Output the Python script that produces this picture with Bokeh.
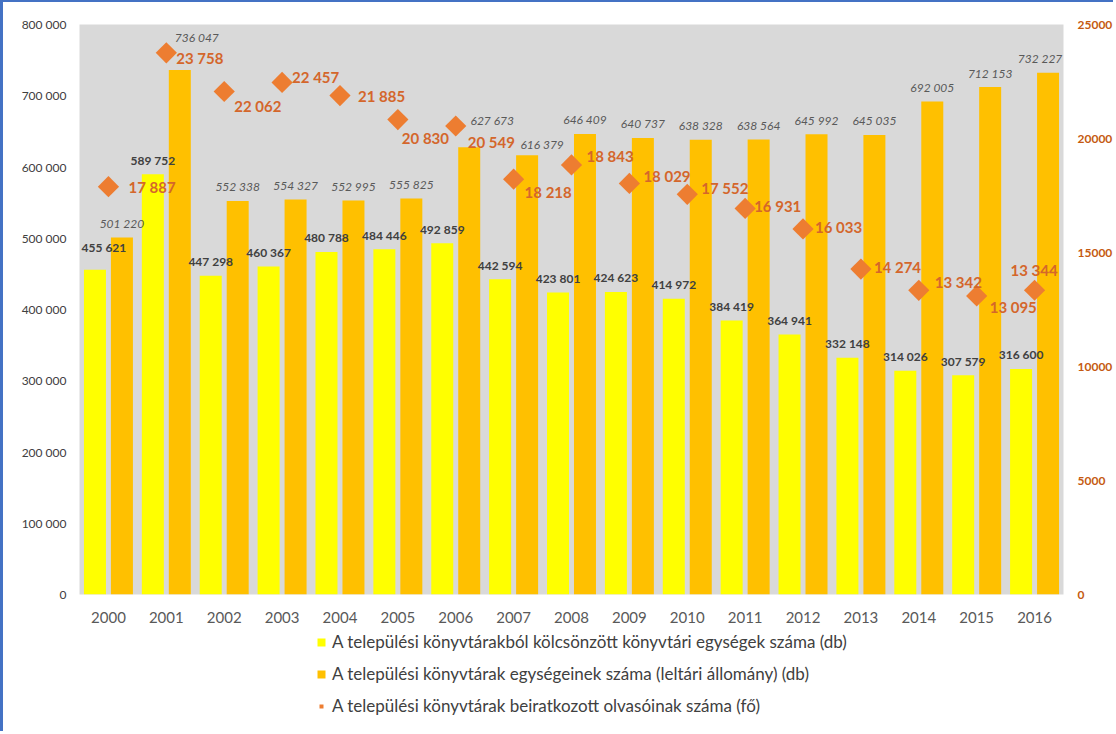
from bokeh.plotting import figure
from bokeh.layouts import column
from bokeh.models import (ColumnDataSource, FactorRange, Range1d, LinearAxis, FixedTicker,
                          CustomJSTickFormatter, Legend, LegendItem)
from bokeh.transform import dodge
from bokeh.core.properties import value
from bokeh.embed import file_html
from bokeh.resources import INLINE
import math

# ---------------- data ----------------
years = [str(y) for y in range(2000, 2017)]
loans = [455621, 589752, 447298, 460367, 480788, 484446, 492859, 442594, 423801,
         424623, 414972, 384419, 364941, 332148, 314026, 307579, 316600]
stock = [501220, 736047, 552338, 554327, 552995, 555825, 627673, 616379, 646409,
         640737, 638328, 638564, 645992, 645035, 692005, 712153, 732227]
readers = [17887, 23758, 22062, 22457, 21885, 20830, 20549, 18218, 18843,
           18029, 17552, 16931, 16033, 14274, 13342, 13095, 13344]
left_ticks = list(range(0, 800001, 100000))
right_ticks = list(range(0, 25001, 5000))
series_names = [
    "A települési könyvtárakból kölcsönzött könyvtári egységek száma (db)",
    "A települési könyvtárak egységeinek száma (leltári állomány) (db)",
    "A települési könyvtárak beiratkozott olvasóinak száma (fő)",
]

# label nudges in pixels (styling only)
loan_dx = [9] + [0] * 16
loan_dy = [-22] + [-14] * 16
stock_dx = [0, 17, 0, 0, 0, 0, 23, 15, 0, 0, 0, 0, 0, 0, 0, 0, -8]
stock_dy = [-14, -33, -14, -14, -14, -14, -27, -11, -14, -14, -14, -14, -14, -14, -14, -14, -14]
reader_dx = [20, 10, 10, 10, 18, 4, 12, 11, 15, 14, 14, 9, 12, 13, 16, 13, -24]
reader_dy = [0, 5, 15, -5, 0, 18, 16, 13, -9, -7, -6, -2, -2, -2, -8, 11, -20]


def fmt(v):
    return f"{v:,}".replace(",", " ")


src = ColumnDataSource(dict(
    year=years, loans=loans, stock=stock, readers=readers,
    loan_lbl=[fmt(v) for v in loans], stock_lbl=[fmt(v) for v in stock],
    reader_lbl=[fmt(v) for v in readers],
    loan_dx=loan_dx, loan_dy=loan_dy, stock_dx=stock_dx, stock_dy=stock_dy,
    reader_dx=reader_dx, reader_dy=reader_dy,
))

FONT = value("Lato")
YELLOW = "#FFFF00"
GOLD = "#FFC000"
ORANGE = "#ED7D31"
ORANGE_TXT = "#D4662B"
BORDER = "#4472C4"

p = figure(x_range=FactorRange(*years), y_range=Range1d(0, 800000),
           width=1113, height=628, output_backend="svg", toolbar_location=None,
           min_border_left=76, min_border_right=53, min_border_top=22, min_border_bottom=36)
p.styles = {"border-left": f"3px solid {BORDER}", "border-top": f"2px solid {BORDER}"}
p.background_fill_color = "#D9D9D9"
p.border_fill_color = "white"
p.outline_line_color = None
p.xgrid.grid_line_color = None
p.ygrid.grid_line_color = None
p.x_range.range_padding = 0

p.extra_y_ranges = {"readers": Range1d(0, 25000)}

# bars
p.vbar(x=dodge("year", -0.233, range=p.x_range), top="loans", width=0.38, source=src,
       fill_color=YELLOW, line_color=None)
p.vbar(x=dodge("year", 0.233, range=p.x_range), top="stock", width=0.38, source=src,
       fill_color=GOLD, line_color=None)

# diamonds
p.scatter(x="year", y="readers", y_range_name="readers", source=src, marker="square",
          angle=math.pi / 4, size=15, fill_color=ORANGE, line_color=None)

# labels
p.text(x=dodge("year", -0.233, range=p.x_range), y="loans", text="loan_lbl", source=src,
       x_offset="loan_dx", y_offset="loan_dy", text_align="center", text_baseline="middle",
       text_font=FONT, text_font_style="bold", text_font_size="12px", text_color="#404040")
p.text(x=dodge("year", 0.233, range=p.x_range), y="stock", text="stock_lbl", source=src,
       x_offset="stock_dx", y_offset="stock_dy", text_align="center", text_baseline="middle",
       text_font=FONT, text_font_style="italic", text_font_size="12px", text_color="#595959")
p.text(x="year", y="readers", y_range_name="readers", text="reader_lbl", source=src,
       x_offset="reader_dx", y_offset="reader_dy", text_align="left", text_baseline="middle",
       text_font=FONT, text_font_style="bold", text_font_size="15px", text_color=ORANGE_TXT)


def clean(ax):
    ax.axis_line_color = None
    ax.major_tick_line_color = None
    ax.minor_tick_line_color = None
    ax.major_label_text_font = "Lato"


xa = p.xaxis[0]
clean(xa)
xa.major_label_text_font_size = "15px"
xa.major_label_text_color = "#595959"
xa.major_label_standoff = 11

ya = p.yaxis[0]
clean(ya)
ya.ticker = FixedTicker(ticks=left_ticks)
ya.formatter = CustomJSTickFormatter(code="return tick.toString().replace(/\\B(?=(\\d{3})+(?!\\d))/g, ' ');")
ya.major_label_text_font_size = "12px"
ya.major_label_text_color = "#404040"
ya.major_label_standoff = 7

ra = LinearAxis(y_range_name="readers", ticker=FixedTicker(ticks=right_ticks))
clean(ra)
ra.major_label_text_font_size = "12px"
ra.major_label_text_font_style = "bold"
ra.major_label_text_color = "#C55A11"
ra.major_label_standoff = 8
p.add_layout(ra, "right")

# ---------------- legend panel ----------------
lf = figure(width=1113, height=103, output_backend="svg", toolbar_location=None,
            x_range=Range1d(0, 1), y_range=Range1d(0, 1),
            x_axis_location=None, y_axis_location=None,
            min_border_left=0, min_border_right=0, min_border_top=0, min_border_bottom=0)
lf.styles = {"border-left": f"3px solid {BORDER}"}
lf.outline_line_color = None
lf.background_fill_color = "white"
lf.border_fill_color = "white"
lf.xgrid.grid_line_color = None
lf.ygrid.grid_line_color = None

# off-screen proxies that only supply the legend swatches
lg1 = lf.vbar(x=[-5], top=[-5], width=0.1, fill_color=YELLOW, line_color=None)
lg2 = lf.vbar(x=[-5], top=[-5], width=0.1, fill_color=GOLD, line_color=None)
lg3 = lf.scatter(x=[-5], y=[-5], marker="square", angle=math.pi / 4,
                 fill_color=ORANGE, line_color=None)
legend = Legend(items=[LegendItem(label=series_names[0], renderers=[lg1]),
                       LegendItem(label=series_names[1], renderers=[lg2]),
                       LegendItem(label=series_names[2], renderers=[lg3])],
                location=(237, 15), orientation="vertical",
                background_fill_alpha=0, border_line_color=None,
                label_text_font="Lato", label_text_font_size="17px", label_text_color="#404040",
                glyph_width=10, glyph_height=10, label_height=18, label_standoff=6,
                spacing=11, padding=0, margin=0)
lf.add_layout(legend)

layout = column(p, lf, spacing=0)
open("out.html", "w").write(file_html(layout, INLINE))
